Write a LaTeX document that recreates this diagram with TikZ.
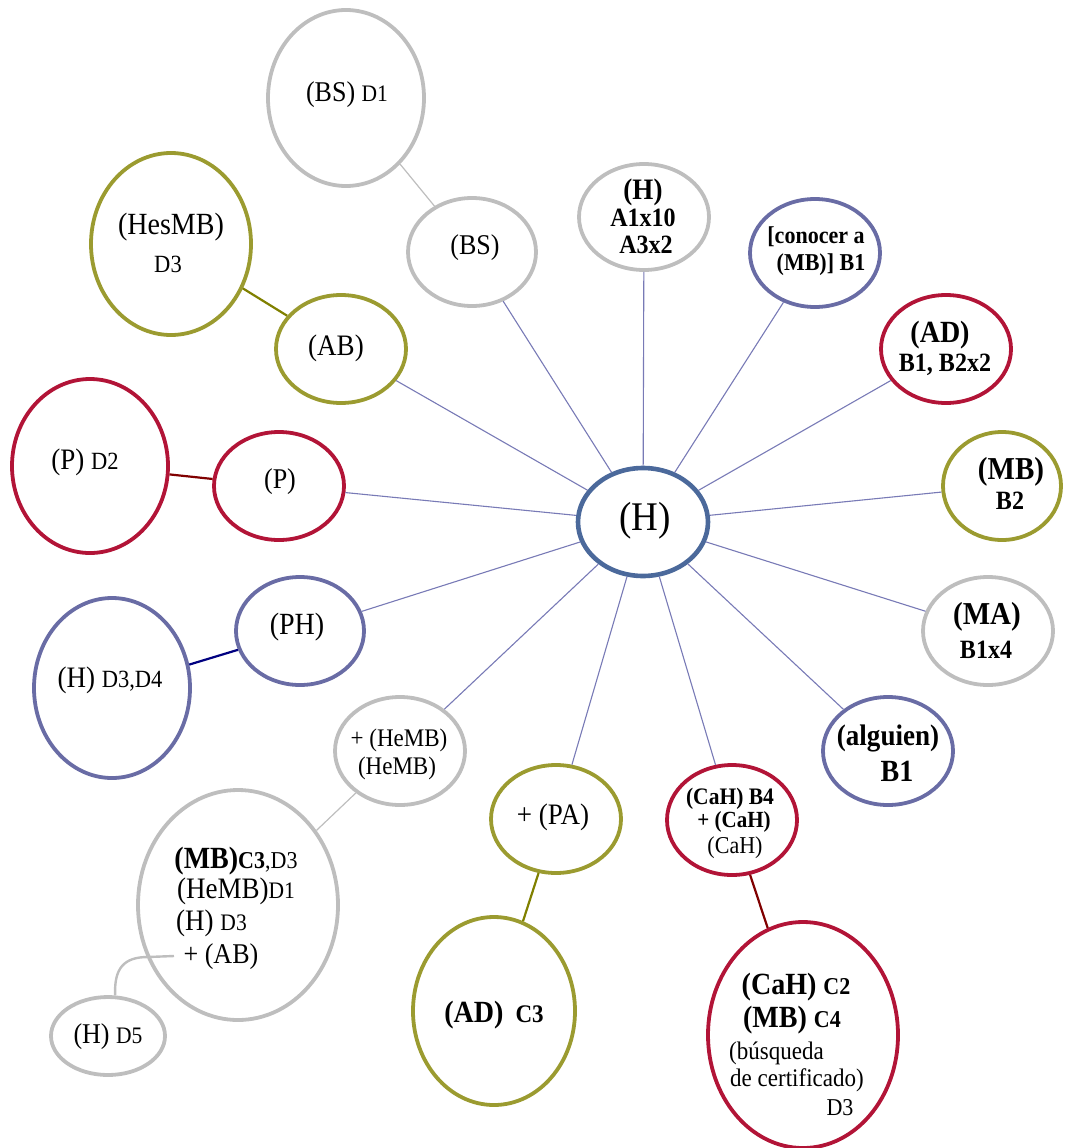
\documentclass[tikz,border=0pt]{standalone}
\usepackage{fontspec}
\setmainfont{Liberation Serif}[FakeStretch=0.91]
\usetikzlibrary{shapes.geometric}

\definecolor{hubblue}{RGB}{75,105,155}
\definecolor{ringgray}{RGB}{190,190,190}
\definecolor{ringolive}{RGB}{155,155,48}
\definecolor{ringred}{RGB}{178,20,55}
\definecolor{ringpurple}{RGB}{105,108,165}
\definecolor{spokeblue}{RGB}{120,122,182}
\definecolor{linkolive}{RGB}{128,128,0}
\definecolor{linkred}{RGB}{128,0,0}
\definecolor{linknavy}{RGB}{0,0,128}

% type size in px, set slightly taller than wide
\newcommand\fz[1]{\fontsize{\fpeval{#1*1.1}}{\fpeval{#1*1.1}}\selectfont}

\tikzset{
  ring/.style 2 args={ellipse, draw, line width=3.8pt, inner sep=0pt,
    minimum width=#1*2pt, minimum height=#2*2pt},
  grayring/.style={draw=ringgray},
  olivering/.style={draw=ringolive},
  redring/.style={draw=ringred},
  purplering/.style={draw=ringpurple},
  spokeline/.style={draw=spokeblue, line width=1.1pt},
  thinlink/.style={draw=ringgray, line width=1.2pt},
  boldlink/.style={line width=2.2pt},
  lbl/.style={inner sep=0pt, align=center, text=black},
}

\begin{document}
\begin{tikzpicture}[x=1pt, y=-1pt]
\useasboundingbox (0,0) rectangle (1067,1148);

% hub
\node[ring={65}{54}, draw=hubblue, line width=4.6pt] (hub) at (643,522) {};

% first ring around the hub
\node[ring={64}{54}, grayring]   (bs)   at (472,252) {};
\node[ring={65}{53}, grayring]   (ha)   at (644,217) {};
\node[ring={65}{54}, purplering] (con)  at (815,253) {};
\node[ring={65}{54}, redring]    (adb)  at (946,349) {};
\node[ring={59}{54}, olivering]  (mbb)  at (1002,486) {};
\node[ring={65}{54}, grayring]   (ma)   at (988,631) {};
\node[ring={65}{54}, purplering] (alg)  at (888,751) {};
\node[ring={65}{55}, redring]    (cah)  at (732,820) {};
\node[ring={65}{54}, olivering]  (pa)   at (556,819) {};
\node[ring={65}{54}, grayring]   (hemb) at (400,751) {};
\node[ring={64}{54}, purplering] (ph)   at (300,631) {};
\node[ring={65}{54}, redring]    (p)    at (279,486) {};
\node[ring={65}{54}, olivering]  (ab)   at (341,349) {};

% outer ring
\node[ring={78}{88}, grayring]   (bsd1)  at (346,98) {};
\node[ring={80}{91}, olivering]  (hesmb) at (171,244) {};
\node[ring={78}{87}, redring]    (pd2)   at (90,466) {};
\node[ring={78}{90}, purplering] (hd34)  at (112,688) {};
\node[ring={100}{115}, grayring] (mbc)   at (238,905) {};
\node[ring={57}{39}, grayring]   (hd5)   at (108,1036) {};
\node[ring={81}{94}, olivering]  (adc)   at (494,1011) {};
\node[ring={95}{113}, redring]   (cahc)  at (803,1035) {};

% spokes
\foreach \n in {bs,ha,con,adb,mbb,ma,alg,cah,pa,hemb,ph,p,ab}
  \draw[spokeline] (hub) -- (\n);

% links to the outer ring
\draw[thinlink] (bsd1) -- (bs);
\draw[boldlink, linkolive] (hesmb) -- (ab);
\draw[boldlink, linkred] (pd2) -- (p);
\draw[boldlink, linknavy] (hd34) -- (ph);
\draw[thinlink] (hemb) -- (mbc);
\draw[boldlink, linkolive] (pa) -- (adc);
\draw[boldlink, linkred] (cah) -- (cahc);
\coordinate (abtail) at (174,956);
\draw[draw=ringgray, line width=2.4pt] (hd5.80) .. controls (114,968) and (124,957) .. (148,957) -- (abtail);

% labels
\node[lbl] (t-hub) at (645,521) {\fz{37}(H)};

\node[lbl] (t-bs) at (475,248) {\fz{26}(BS)};
\node[lbl] (t-ha1) at (643,192) {\bfseries\fz{27}(H)};
\node[lbl] (t-ha2) at (643,218) {\bfseries\fz{24}A1x10};
\node[lbl] (t-ha3) at (646,245) {\bfseries\fz{24}A3x2};
\node[lbl] (t-con1) at (816,237) {\bfseries\fz{22}[conocer a};
\node[lbl] (t-con2) at (821,265) {\bfseries\fz{22}(MB)] B1};
\node[lbl] (t-adb1) at (940,335) {\bfseries\fz{28}(AD)};
\node[lbl] (t-adb2) at (945,365) {\bfseries\fz{24}B1, B2x2};
\node[lbl] (t-mbb1) at (1011,472) {\bfseries\fz{29}(MB)};
\node[lbl] (t-mbb2) at (1010,501) {\bfseries\fz{24}B2};
\node[lbl] (t-ma1) at (987,617) {\bfseries\fz{29}(MA)};
\node[lbl] (t-ma2) at (986,650) {\bfseries\fz{24}B1x4};
\node[lbl] (t-alg1) at (888,738) {\bfseries\fz{27}(alguien)};
\node[lbl] (t-alg2) at (897,771) {\bfseries\fz{28}B1};
\node[lbl] (t-cah1) at (730,799) {\bfseries\fz{21.5}(CaH) B4};
\node[lbl] (t-cah2) at (734,822) {\bfseries\fz{21}+ (CaH)};
\node[lbl] (t-cah3) at (735,848) {\fz{22}(CaH)};
\node[lbl] (t-pa) at (553,817) {\fz{27}+ (PA)};
\node[lbl] (t-hemb1) at (399,740) {\fz{23}+ (HeMB)};
\node[lbl] (t-hemb2) at (397,768) {\fz{23}(HeMB)};
\node[lbl] (t-ph) at (297,627) {\fz{28}(PH)};
\node[lbl] (t-p) at (280,482) {\fz{26}(P)};
\node[lbl] (t-ab) at (336,348) {\fz{27}(AB)};

\node[lbl] (t-bsd1) at (347,95) {\fz{26}(BS) {\fz{21.5}D1}};
\node[lbl] (t-hesmb1) at (171,227) {\fz{28}(HesMB)};
\node[lbl] (t-hesmb2) at (168,264) {\fz{22.5}D3};
\node[lbl] (t-pd2) at (85,462) {\fz{27}(P) {\fz{22.5}D2}};
\node[lbl] (t-hd34) at (110,680) {\fz{27}(H) {\fz{22.5}D3,D4}};
\node[lbl] (t-mbc1) at (236,861) {\bfseries\fz{28}(MB){\fz{22}C3}\mdseries{\fz{22},D3}};
\node[lbl] (t-mbc2) at (236,891) {\fz{27}(HeMB){\fz{21.5}D1}};
\node[lbl, anchor=west] (t-mbc3) at (176,923) {\fz{27}(H) {\fz{21.5}D3}};
\node[lbl] (t-mbc4) at (221,957) {\fz{26}+ (AB)};
\node[lbl] (t-hd5) at (108,1037) {\fz{26}(H) {\fz{21.5}D5}};
\node[lbl] (t-adc) at (494,1015) {\bfseries\fz{28}(AD)\hspace{12pt}{\fz{23}C3}};
\node[lbl] (t-cahc1) at (796,987) {\bfseries\fz{28}(CaH) {\fz{22}C2}};
\node[lbl] (t-cahc2) at (792,1020) {\bfseries\fz{28}(MB) {\fz{22}C4}};
\node[lbl, anchor=west] (t-cahc3) at (729,1053) {\fz{23}(búsqueda};
\node[lbl, anchor=west] (t-cahc4) at (730,1080) {\fz{23}de certificado)};
\node[lbl] (t-cahc5) at (840,1108) {\fz{22}D3};
\end{tikzpicture}
\end{document}
